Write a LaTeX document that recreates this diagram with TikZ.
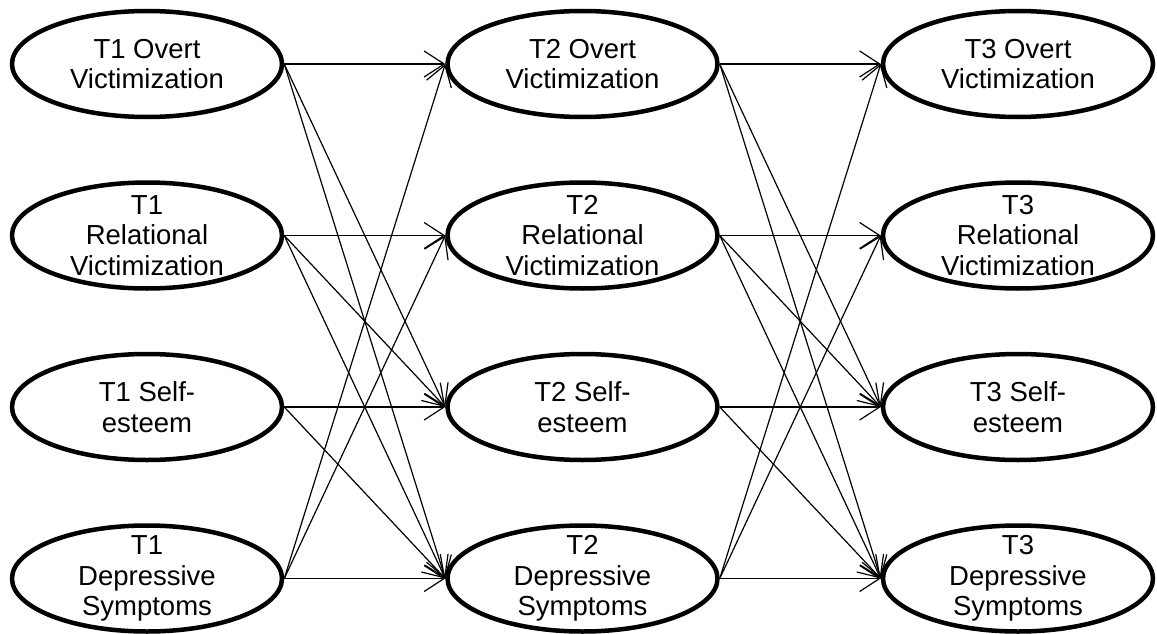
\documentclass[tikz,border=0pt]{standalone}
\usepackage{fontspec}
\setmainfont{Liberation Sans}
\usetikzlibrary{shapes, arrows.meta, positioning}
\tikzset{
    construct/.style = {ellipse, draw, line width=4.5pt, inner sep=-24pt, minimum width=270pt, minimum height=106pt, align=center, font=\fontsize{27.5}{30.5}\selectfont},
    line/.style = {draw, line width=1.2pt, -{Straight Barb[length=20pt, width=26pt]}}
}
\begin{document}
\begin{tikzpicture}[x=1pt, y=-1pt, node distance=61pt and 161pt]
        \useasboundingbox (0,0) rectangle (1157,634);

        % Time 1
        \node [construct] at (147,64) (ov1) {T1 Overt\\Victimization};
        \node [construct, below=of ov1] (rv1) {T1\\Relational\\Victimization};
        \node [construct, below=of rv1] (se1) {T1 Self-\\esteem};
        \node [construct, below=of se1] (dep1) {T1\\Depressive\\Symptoms};

        % Time 2
        \node [construct, right=of ov1] (ov2) {T2 Overt\\Victimization};
        \node [construct, right=of rv1] (rv2) {T2\\Relational\\Victimization};
        \node [construct, right=of se1] (se2) {T2 Self-\\esteem};
        \node [construct, right=of dep1] (dep2) {T2\\Depressive\\Symptoms};

        % Time 3
        \node [construct, right=of ov2] (ov3) {T3 Overt\\Victimization};
        \node [construct, right=of rv2] (rv3) {T3\\Relational\\Victimization};
        \node [construct, right=of se2] (se3) {T3 Self-\\esteem};
        \node [construct, right=of dep2] (dep3) {T3\\Depressive\\Symptoms};

        % Paths T1 -> T2
        \path [line] (ov1.east) -- (ov2.west);
        \path [line] (ov1.east) -- (se2.west);
        \path [line] (ov1.east) -- (dep2.west);
        \path [line] (rv1.east) -- (rv2.west);
        \path [line] (rv1.east) -- (se2.west);
        \path [line] (rv1.east) -- (dep2.west);
        \path [line] (se1.east) -- (se2.west);
        \path [line] (se1.east) -- (dep2.west);
        \path [line] (dep1.east) -- (dep2.west);
        \path [line] (dep1.east) -- (ov2.west);
        \path [line] (dep1.east) -- (rv2.west);

        % Paths T2 -> T3
        \path [line] (ov2.east) -- (ov3.west);
        \path [line] (ov2.east) -- (se3.west);
        \path [line] (ov2.east) -- (dep3.west);
        \path [line] (rv2.east) -- (rv3.west);
        \path [line] (rv2.east) -- (se3.west);
        \path [line] (rv2.east) -- (dep3.west);
        \path [line] (se2.east) -- (se3.west);
        \path [line] (se2.east) -- (dep3.west);
        \path [line] (dep2.east) -- (dep3.west);
        \path [line] (dep2.east) -- (ov3.west);
        \path [line] (dep2.east) -- (rv3.west);

    \end{tikzpicture}
\end{document}
